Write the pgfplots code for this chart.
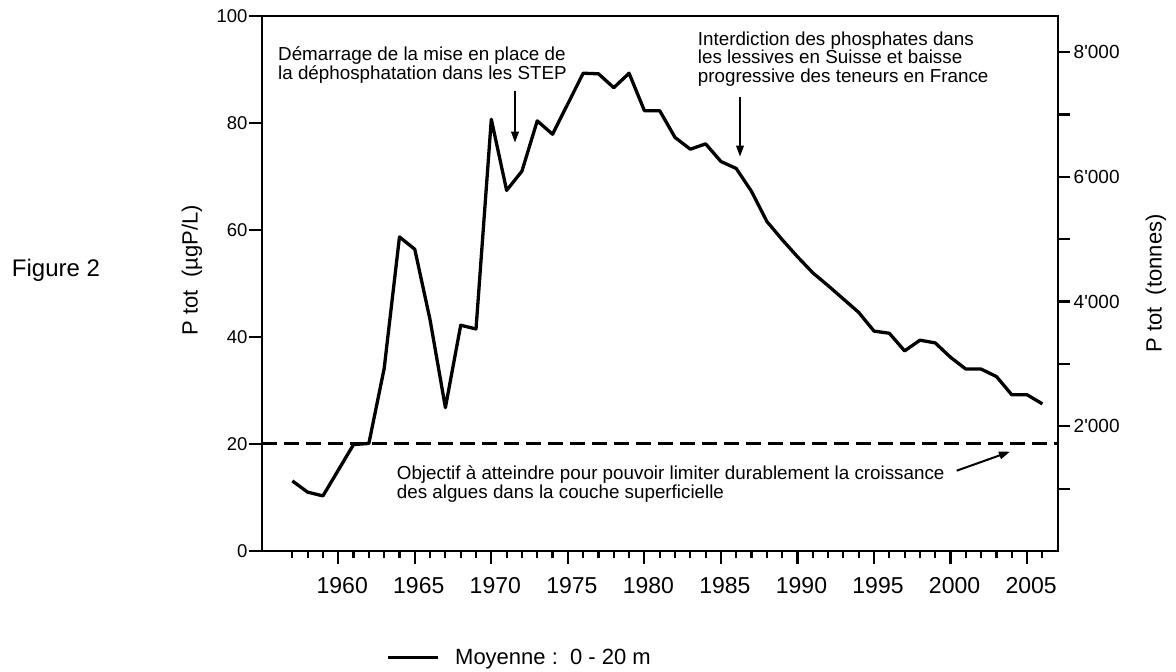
\documentclass[border=0pt]{standalone}
\usepackage{pgfplots}
\pgfplotsset{compat=1.18}
\usepackage{pgfplotstable}
\usepackage{fontspec}
\setmainfont{Liberation Sans}
\newfontfamily\plainarial{Liberation Sans}
\usetikzlibrary{arrows.meta}

\pgfplotstableread{
year val
1957 13.1
1958 11.0
1959 10.3
1960 15.1
1961 19.9
1962 20.1
1963 34.1
1964 58.7
1965 56.4
1966 43.2
1967 26.8
1968 42.2
1969 41.5
1970 80.7
1971 67.4
1972 71.0
1973 80.4
1974 77.9
1975 83.6
1976 89.3
1977 89.2
1978 86.6
1979 89.3
1980 82.3
1981 82.3
1982 77.3
1983 75.1
1984 76.1
1985 72.8
1986 71.5
1987 67.2
1988 61.6
1989 58.2
1990 55.0
1991 52.0
1992 49.6
1993 47.1
1994 44.6
1995 41.1
1996 40.7
1997 37.4
1998 39.4
1999 38.9
2000 36.2
2001 34.0
2002 34.0
2003 32.6
2004 29.2
2005 29.2
2006 27.5
}\datatable

\begin{document}
\begin{tikzpicture}
\path[use as bounding box] (0pt,0pt) rectangle (1176pt,672pt);
\begin{axis}[
  at={(261.7pt,121pt)}, anchor=south west,
  scale only axis, width=796pt, height=535pt,
  xmin=1955, xmax=2007, ymin=0, ymax=100,
  axis line style={line width=2.4pt},
  tick align=outside,
  major tick length=13pt, minor tick length=7.5pt,
  tick style={line width=2.2pt, black},
  xtick={1960,1965,...,2005},
  xticklabels={1960,1965,1970,1975,1980,1985,1990,1995,2000,2005},
  minor xtick={1957,1958,...,2006},
  xtick pos=left,
  ytick={0,20,40,60,80,100},
  yticklabels={0,20,40,60,80,100},
  ytick pos=left,
  xticklabel style={font=\fontsize{23}{27}\selectfont, xshift=4pt, yshift=-10pt},
  yticklabel style={font=\fontsize{18.5}{22}\selectfont, inner sep=1pt},
  ylabel={P tot\ \ (µgP/L)},
  ylabel style={font=\fontsize{22}{26}\selectfont, at={(axis description cs:-0.0876,0.525)}, anchor=center},
  legend style={draw=none, fill=none, at={(axis description cs:0.1562,-0.2)}, anchor=west,
    inner sep=0pt, outer sep=0pt, font=\fontsize{22}{26}\selectfont},
  legend image code/.code={\draw[line width=3pt] (0pt,0pt) -- (50pt,0pt); \path (64pt,0pt);},
]
\addplot[line width=3.3pt, black, line join=round] table[x=year,y=val]{\datatable};
\addlegendentry{Moyenne :\ \ 0 - 20 m}
\addplot[forget plot, line width=3pt, black, dash pattern=on 15pt off 7pt] coordinates {(1955,20) (2007,20)};
\end{axis}
\begin{axis}[
  at={(261.7pt,121pt)}, anchor=south west,
  scale only axis, width=796pt, height=535pt,
  xmin=1955, xmax=2007, ymin=0, ymax=8580,
  axis x line=none, axis y line*=right,
  axis line style={line width=2.4pt},
  tick align=outside, major tick length=12.5pt,
  tick style={line width=2.2pt, black},
  ytick={1000,2000,...,8000},
  yticklabels={,{\plainarial 2'000},,{\plainarial 4'000},,{\plainarial 6'000},,{\plainarial 8'000}},
  yticklabel style={font=\fontsize{19}{22}\selectfont},
  ylabel={P tot\ \ (tonnes)},
  ylabel style={font=\fontsize{22}{26}\selectfont, at={(axis description cs:1.1235,0.5)}, anchor=center},
]
\addplot[draw=none, forget plot] coordinates {(1955,0) (2007,0)};
\end{axis}
% annotations
\node[anchor=center, font=\fontsize{24}{28}\selectfont] at (56pt,401.6pt) {Figure 2};
\begin{scope}[every node/.style={anchor=base west, inner sep=0pt, font=\fontsize{18.8}{22}\selectfont}]
\node at (278pt,611.3pt) {Démarrage de la mise en place de};
\node at (278pt,592pt) {la déphosphatation dans les STEP};
\node at (697.7pt,626.3pt) {Interdiction des phosphates dans};
\node at (697.7pt,608pt) {les lessives en Suisse et baisse};
\node at (697.7pt,589.7pt) {progressive des teneurs en France};
\node at (396.7pt,192.7pt) {Objectif à atteindre pour pouvoir limiter durablement la croissance};
\node at (396.7pt,173pt) {des algues dans la couche superficielle};
\end{scope}
\begin{scope}[line width=2pt, -{Triangle[length=11pt,width=7.5pt]}]
\draw (515pt,581.3pt) -- (515pt,529.3pt);
\draw (740pt,575.3pt) -- (740pt,515.3pt);
\draw (956.7pt,201.3pt) -- (1010pt,220.3pt);
\end{scope}
\end{tikzpicture}
\end{document}
